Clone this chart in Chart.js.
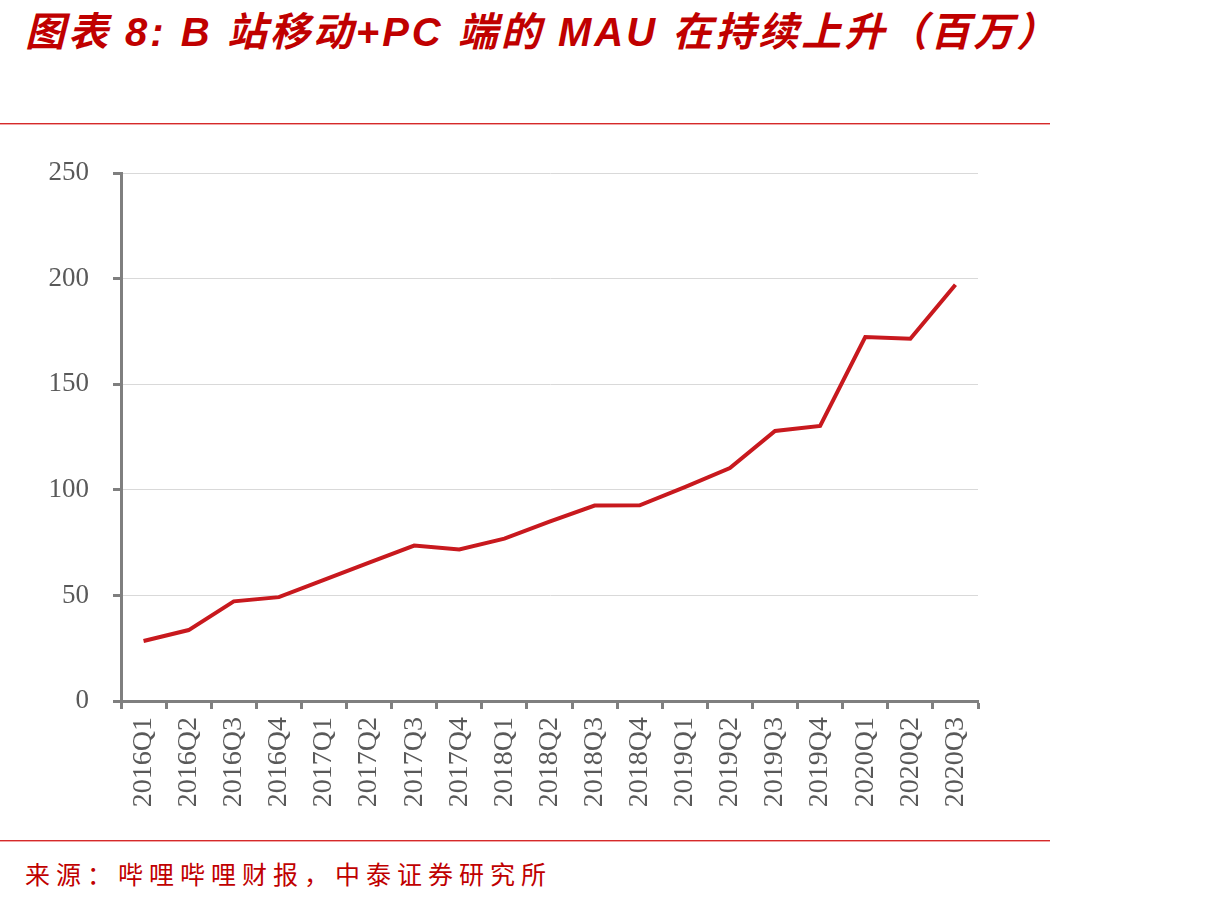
<!DOCTYPE html>
<html>
<head>
<meta charset="utf-8">
<script src="https://cdn.jsdelivr.net/npm/chart.js@4/dist/chart.umd.min.js"></script>
<style>
  html, body { margin: 0; padding: 0; background: #fff; }
  body { width: 1212px; height: 905px; position: relative; overflow: hidden; }
  #title {
    position: absolute; left: 25px; top: 0px;
    font-family: "Liberation Sans", "Noto Sans CJK SC", sans-serif;
    font-weight: bold; font-style: italic; font-size: 40px;
    color: #C00000; white-space: nowrap; letter-spacing: 3px;
  }
  .rule { position: absolute; left: 0; width: 1050px; height: 1px; background: #D42A2A; box-shadow: 0 1px 0 #F2A5A5; }
  #source {
    position: absolute; left: 25px; top: 855px;
    font-family: "Noto Sans CJK SC", serif; font-size: 25px;
    color: #C00000; white-space: nowrap; letter-spacing: 6px;
  }
  #wrap { position: absolute; left: 0; top: 133px; width: 1000px; height: 697px; }
</style>
</head>
<body>
<div id="title">图表 8: B 站移动+PC 端的 MAU 在持续上升（百万）</div>
<div class="rule" style="top:123px"></div>
<div id="wrap"><canvas id="c" width="1000" height="697"></canvas></div>
<div class="rule" style="top:840px"></div>
<div id="source">来源：哔哩哔哩财报，中泰证券研究所</div>
<script>
const categories = ["2016Q1","2016Q2","2016Q3","2016Q4","2017Q1","2017Q2","2017Q3","2017Q4","2018Q1","2018Q2","2018Q3","2018Q4","2019Q1","2019Q2","2019Q3","2019Q4","2020Q1","2020Q2","2020Q3"];
const mau = [28.4, 33.6, 47.2, 49.2, 57.4, 65.5, 73.6, 71.8, 76.9, 85.0, 92.6, 92.7, 101.3, 110.3, 127.9, 130.3, 172.4, 171.6, 197.2];
const yTicks = [0, 50, 100, 150, 200, 250];

const gray = '#7f7f7f';
const labelColor = '#595959';
const serif = '"Liberation Serif", "DejaVu Serif", serif';

new Chart(document.getElementById('c'), {
  type: 'line',
  data: {
    labels: categories,
    datasets: [{
      data: mau,
      borderColor: '#C8191E',
      borderWidth: 4,
      pointRadius: 0,
      tension: 0,
      fill: false
    }]
  },
  options: {
    responsive: false,
    animation: false,
    layout: { padding: { left: 0, right: 22, top: 6, bottom: 0 } },
    plugins: { legend: { display: false }, tooltip: { enabled: false } },
    scales: {
      x: {
        offset: true,
        grid: { offset: true, drawOnChartArea: false, drawTicks: true, tickLength: 8, tickColor: gray, tickWidth: 3 },
        border: { color: gray, width: 3 },
        ticks: {
          color: labelColor, font: { family: serif, size: 28 },
          minRotation: 90, maxRotation: 90, autoSkip: false, padding: 8
        },
        afterFit: (s) => { s.height = 129; }
      },
      y: {
        min: 0, max: 250,
        afterBuildTicks: (s) => { s.ticks = yTicks.map(v => ({ value: v })); },
        grid: { color: '#d9d9d9', lineWidth: 1, drawTicks: true, tickLength: 8, tickColor: gray, tickWidth: 3 },
        border: { color: gray, width: 3 },
        ticks: { color: labelColor, font: { family: serif, size: 27 }, padding: 24 },
        afterFit: (s) => { s.width = 121; }
      }
    }
  }
});
</script>
</body>
</html>
